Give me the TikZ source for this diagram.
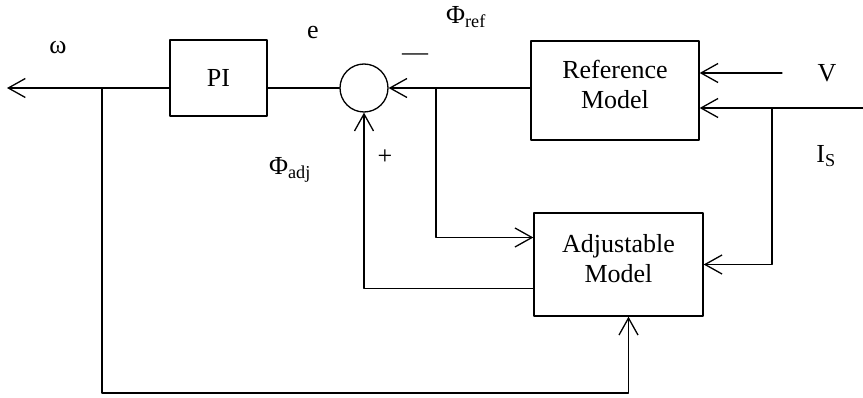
\documentclass[tikz,border=0pt]{standalone}
\usepackage{fontspec}
\setmainfont{Liberation Serif}
\usetikzlibrary{arrows.meta,calc,positioning}

\begin{document}
\begin{tikzpicture}[x=1pt,y=-1pt,>={Straight Barb[length=17pt,width=19pt]},line cap=round,line join=round]
\useasboundingbox (0,0) rectangle (863,398);
\tikzset{wire/.style={draw=black,line width=1.3pt},box/.style={draw=black,line width=1.4pt,inner sep=0pt,align=center,font=\fontsize{26}{30}\selectfont},lbl/.style={font=\fontsize{26}{30}\selectfont,inner sep=0pt}}
\node[box,minimum width=97pt,minimum height=76pt] (pi) at (218.5,78) {PI};
\node[draw,circle,minimum size=48pt,line width=1.3pt,inner sep=0pt] (sum) at (364,88) {};
\node[box,minimum width=168pt,minimum height=99pt] (refm) at (615,90.5) {Reference\\Model\\[-18pt]\mbox{}};
\node[box,minimum width=169pt,minimum height=103pt] (adjm) at (618.5,264.5) {Adjustable\\Model\\[-18pt]\mbox{}};
\coordinate (wout) at (7,88); \coordinate (wj) at (102,88); \coordinate (fb) at (102,393);
\coordinate (phij) at (436,88);
\coordinate (vin) at (782,73); \coordinate (isin) at (863,108); \coordinate (isj) at (772,108);
\draw[wire,->] (pi.west |- sum) -- (wout);
\draw[wire] (pi.east |- sum) -- (sum.west);
\draw[wire,->] (refm.west |- sum) -- (sum.east);
\draw[wire,->] (vin) -- (vin -| refm.east);
\draw[wire,->] (isin) -- (isin -| refm.east);
\draw[wire,->] (isj) |- (adjm.east);
\draw[wire,->] (phij) |- ($(adjm.west)+(0,-27)$);
\draw[wire,->] ($(adjm.west)+(0,24)$) -| (sum.south);
\draw[wire,->] (wj) -- (fb) -| ($(adjm.south)+(10,0)$);
\node[lbl] (omega) at (58,48) {ω};
\node[lbl] (elbl) at (313,33) {e};
\node[lbl] (phiref) at (466,17) {Φ\textsubscript{ref}};
\node[lbl] (minus) at (415,57) {—};
\node[lbl] (plus) at (385,157) {+};
\node[lbl] (phiadj) at (290,170) {Φ\textsubscript{adj}};
\node[lbl] (vlbl) at (827,73) {V};
\node[lbl] (islbl) at (826,156) {I\textsubscript{S}};
\end{tikzpicture}
\end{document}
